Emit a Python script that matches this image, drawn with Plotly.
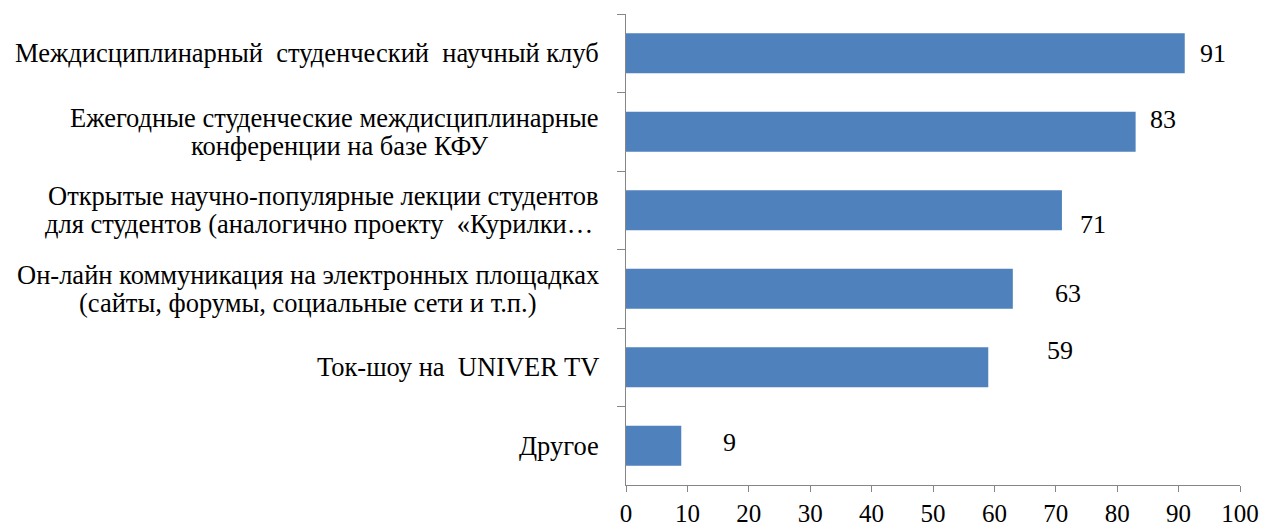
import plotly.graph_objects as go

categories = [
    "Междисциплинарный  студенческий  научный клуб",
    "Ежегодные студенческие междисциплинарные<br>конференции на базе КФУ",
    "Открытые научно-популярные лекции студентов<br>для студентов (аналогично проекту  «Курилки…",
    "Он-лайн коммуникация на электронных площадках<br>(сайты, форумы, социальные сети и т.п.)",
    "Ток-шоу на  UNIVER TV",
    "Другое",
]
values = [91, 83, 71, 63, 59, 9]
x_ticks = [0, 10, 20, 30, 40, 50, 60, 70, 80, 90, 100]

# label placement (data-unit x offset from bar end, pixel y shift)
label_dx = [4.6, 4.5, 5.0, 9.0, 11.7, 7.9]
label_dy = [0, 12, -14, -5, 17, 3]
# pixel offset (from the axis) of the centre of each wrapped second line
second_line_center = [0, -287, -307, -319, 0, 0]

FONT = "Liberation Serif, Times New Roman, serif"
AX = "#868686"
FS = 26.5

fig = go.Figure(go.Bar(
    y=categories, x=values, orientation="h",
    marker=dict(color="#4F81BD", line=dict(width=0)),
    width=0.51,
))


def nbsp(s):
    return s.replace("  ", "\u00a0 ")


ann = []
for c, v, dx, dy, cx in zip(categories, values, label_dx, label_dy, second_line_center):
    ann.append(dict(x=v + dx, y=c, xref="x", yref="y", text=str(v), showarrow=False,
                    yshift=dy, font=dict(family=FONT, size=26, color="#000"),
                    xanchor="center", yanchor="middle"))
    lines = [nbsp(s) for s in c.split("<br>")]
    if len(lines) == 1:
        ann.append(dict(x=0, y=c, xref="paper", yref="y", text=lines[0], showarrow=False,
                        xanchor="right", yanchor="middle", xshift=-25,
                        font=dict(family=FONT, size=FS, color="#000")))
    else:
        l1, l2 = lines
        ann.append(dict(x=0, y=c, xref="paper", yref="y", text=l1, showarrow=False,
                        xanchor="right", yanchor="middle", xshift=-25, yshift=14,
                        font=dict(family=FONT, size=FS, color="#000")))
        ann.append(dict(x=0, y=c, xref="paper", yref="y", text=l2, showarrow=False,
                        xanchor="center", yanchor="middle", xshift=cx, yshift=-14,
                        font=dict(family=FONT, size=FS, color="#000")))

fig.update_layout(
    width=1272, height=529,
    margin=dict(l=626, r=32, t=14, b=44),
    paper_bgcolor="white", plot_bgcolor="white",
    showlegend=False,
    annotations=ann,
    xaxis=dict(range=[0, 100], tickvals=x_ticks, showgrid=False, zeroline=False,
               showline=True, linecolor=AX, linewidth=1, ticks="outside", ticklen=6,
               tickcolor=AX, tickfont=dict(family=FONT, size=25, color="#000"),
               automargin=False, fixedrange=True),
    yaxis=dict(autorange="reversed", showgrid=False, zeroline=False, showline=True,
               linecolor=AX, linewidth=1, ticks="outside", ticklen=8, tickcolor=AX,
               tickson="boundaries", showticklabels=False, automargin=False,
               fixedrange=True),
)

fig.write_html("out.html", config={"displayModeBar": False, "staticPlot": True},
               post_script="document.body.style.margin='0';document.body.style.overflow='hidden';")
